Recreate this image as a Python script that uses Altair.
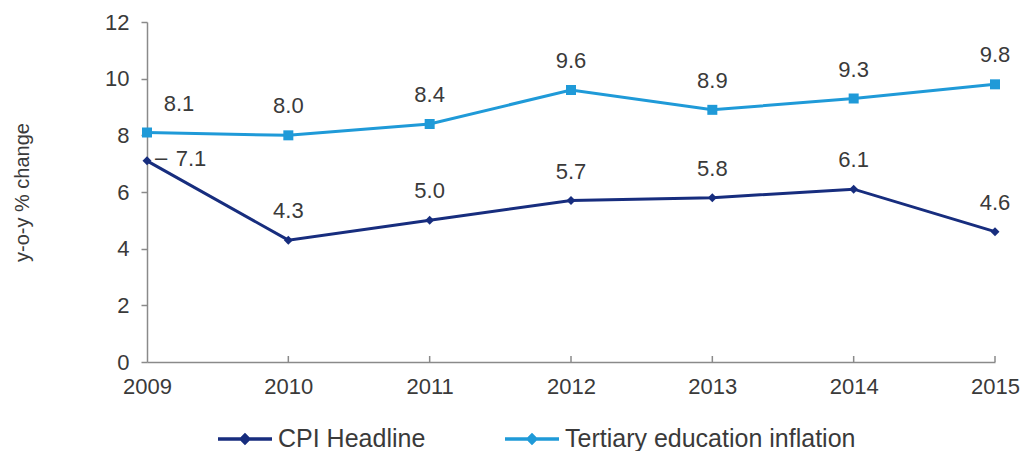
import altair as alt
import pandas as pd

years = [2009, 2010, 2011, 2012, 2013, 2014, 2015]
cpi_headline = [7.1, 4.3, 5.0, 5.7, 5.8, 6.1, 4.6]
tertiary_edu = [8.1, 8.0, 8.4, 9.6, 8.9, 9.3, 9.8]
series_names = ["CPI Headline", "Tertiary education inflation"]
colors = ["#172d7e", "#1f9ad8"]

rows = []
for y, a, b in zip(years, cpi_headline, tertiary_edu):
    rows.append({"year": y, "series": series_names[0], "value": a})
    rows.append({"year": y, "series": series_names[1], "value": b})
df = pd.DataFrame(rows)

FONT = "Liberation Sans"
TXT = "#3a3a3a"
FS = 22

x_enc = alt.X("year:Q", scale=alt.Scale(domain=[2009, 2015], nice=False, zero=False),
              axis=alt.Axis(values=years, format="d", title=None, ticks=False,
                            labelFontSize=FS, labelColor=TXT, labelFont=FONT,
                            labelPadding=14, domainColor="#8a8a8a", domainWidth=1.5,
                            grid=False, labelFlush=False))
y_enc = alt.Y("value:Q", scale=alt.Scale(domain=[0, 12], nice=False),
              axis=alt.Axis(values=[0, 2, 4, 6, 8, 10, 12], title="y-o-y % change",
                            titleFontSize=20, titleFont=FONT, titleColor=TXT,
                            titleFontWeight="normal", titlePadding=72,
                            labelFontSize=FS, labelColor=TXT, labelFont=FONT,
                            labelPadding=12, tickSize=6, tickColor="#8a8a8a",
                            tickWidth=1.5, domainColor="#8a8a8a", domainWidth=1.5,
                            grid=False))
color_scale = alt.Scale(domain=series_names, range=colors)

base = alt.Chart(df)

lines = base.mark_line(strokeWidth=3).encode(
    x=x_enc, y=y_enc,
    color=alt.Color("series:N", scale=color_scale,
                    legend=alt.Legend(title=None, orient="none", legendX=69, legendY=388,
                                      direction="horizontal",
                                      symbolType="M-1,0H1M-0.14,0L0,-0.14L0.14,0L0,0.14Z",
                                      symbolSize=2916, symbolStrokeWidth=3.5,
                                      labelFontSize=25, labelFont=FONT, labelColor=TXT,
                                      labelOffset=4, columnPadding=72, labelLimit=500)),
)

cpi_pts = base.transform_filter(alt.datum.series == series_names[0]).mark_point(
    shape="diamond", filled=True, size=80, opacity=1
).encode(x="year:Q", y="value:Q",
         color=alt.Color("series:N", scale=color_scale, legend=None))

edu_pts = base.transform_filter(alt.datum.series == series_names[1]).mark_point(
    shape="square", filled=True, size=100, opacity=1
).encode(x="year:Q", y="value:Q",
         color=alt.Color("series:N", scale=color_scale, legend=None))

labels_main = base.transform_filter(
    (alt.datum.year != 2009)
).mark_text(dy=-29, fontSize=FS, font=FONT, color=TXT).encode(
    x="year:Q", y="value:Q", text=alt.Text("value:Q", format=".1f"))

label_edu09 = base.transform_filter(
    (alt.datum.year == 2009) & (alt.datum.series == series_names[1])
).mark_text(dx=32, dy=-29, fontSize=FS, font=FONT, color=TXT).encode(
    x="year:Q", y="value:Q", text=alt.Text("value:Q", format=".1f"))

label_cpi09 = base.transform_filter(
    (alt.datum.year == 2009) & (alt.datum.series == series_names[0])
).mark_text(dx=44, dy=-2, fontSize=FS, font=FONT, color=TXT).encode(
    x="year:Q", y="value:Q", text=alt.Text("value:Q", format=".1f"))

leader = base.transform_filter(
    (alt.datum.year == 2009) & (alt.datum.series == series_names[0])
).mark_text(dx=14, dy=-3, fontSize=FS, font=FONT, color=TXT, text="–").encode(
    x="year:Q", y="value:Q")

ticks_x = alt.Chart(pd.DataFrame({"year": years[1:]})).mark_rule(
    color="#8a8a8a", strokeWidth=1.5
).encode(x="year:Q", y=alt.value(340), y2=alt.value(334))

chart = alt.layer(
    ticks_x, lines, cpi_pts, edu_pts, labels_main, label_edu09, leader, label_cpi09
).properties(
    width=848, height=340,
    autosize=alt.AutoSizeParams(type="none"),
    padding={"left": 139, "top": 14, "right": 26, "bottom": 95},
    background="white",
).configure_view(stroke=None)

chart.save("out.html", embed_options={"renderer": "svg", "actions": False})
